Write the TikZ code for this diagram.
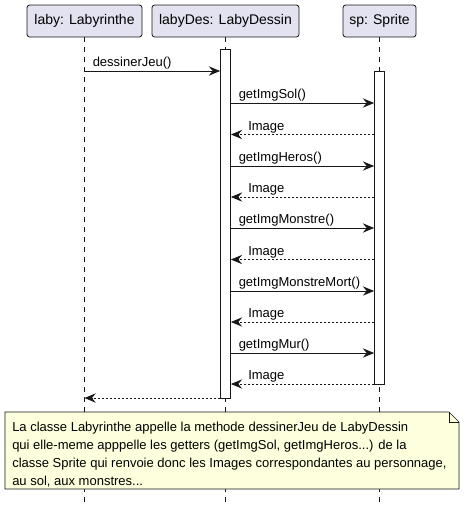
\documentclass[tikz,border=0pt]{standalone}
\usepackage{fontspec}
\setmainfont{Liberation Sans}
\usetikzlibrary{arrows.meta}
\definecolor{partfill}{HTML}{E2E2F0}
\definecolor{linecol}{HTML}{181818}
\definecolor{notefill}{HTML}{FEFFDD}
\tikzset{
  part/.style={draw=linecol, fill=partfill, rounded corners=2pt, line width=0.6pt,
    minimum height=24pt, inner sep=0pt, font=\fontsize{10.5}{12}\selectfont},
  lifeline/.style={draw=linecol, line width=0.5pt, dash pattern=on 3.75pt off 3.75pt},
  actbox/.style={draw=linecol, fill=white, line width=0.6pt, minimum width=7.5pt, inner sep=0pt},
  msg/.style={draw=linecol, line width=0.6pt, -{Stealth[length=8.5pt,width=7pt,inset=3pt]}},
  ret/.style={msg, dash pattern=on 1.5pt off 1.5pt},
  lbl/.style={anchor=base west, inner sep=0pt, font=\fontsize{9.75}{12}\selectfont},
}
\begin{document}
\begin{tikzpicture}[x=0.75pt,y=-0.75pt]
\useasboundingbox (0,0) rectangle (465,511);
% participants
\node[part, minimum width=86.25pt] (pA) at (84.5,21) {laby: Labyrinthe};
\node[part, minimum width=110.25pt] (pB) at (225.5,21) {labyDes: LabyDessin};
\node[part, minimum width=54.75pt] (pC) at (379.5,21) {sp: Sprite};
% lifeline ends
\coordinate (eA) at (84.5,503);
\coordinate (eB) at (225.5,503);
\coordinate (eC) at (379.5,503);
\draw[lifeline] (pA.south) -- (eA);
\draw[lifeline] (pB.south) -- (eB);
\draw[lifeline] (pC.south) -- (eC);
% activations
\node[actbox, minimum height=261.75pt] (actB) at (225.5,223.5) {};
\node[actbox, minimum height=234.75pt] (actC) at (379.5,227.5) {};
% messages
\draw[msg] (pA.south |- 0,71) -- (actB.west |- 0,71);
\node[lbl] (l0) at (92.5,66.5) {dessinerJeu()};
\foreach \y/\t/\n in {103/getImgSol()/1,166/getImgHeros()/2,228/getImgMonstre()/3,291/getImgMonstreMort()/4,353/getImgMur()/5}{
  \draw[msg] (actB.east |- 0,\y) -- (actC.west |- 0,\y);
  \node[lbl] (c\n) at (238.5,\y-4.5) {\t};
}
\foreach \y/\n in {134.5/1,197/2,259.5/3,322/4,384/5}{
  \draw[ret] (actC.west |- 0,\y) -- (actB.east |- 0,\y);
  \node[lbl] (r\n) at (248,\y-4.5) {Image};
}
\draw[ret] (actB.west |- 0,398) -- (pA.south |- 0,398);
% note
\draw[draw=linecol, fill=notefill, line width=0.5pt]
  (5,412) -- (449,412) -- (459,422) -- (459,489) -- (5,489) -- cycle;
\draw[draw=linecol, line width=0.5pt] (449,412) -- (449,422) -- (459,422);
\node[lbl] (n1) at (12,431.5) {La classe Labyrinthe appelle la methode dessinerJeu de LabyDessin};
\node[lbl] (n2) at (12,449.5) {qui elle-meme apppelle les getters (getImgSol, getImgHeros...) de la};
\node[lbl] (n3) at (12,467.5) {classe Sprite qui renvoie donc les Images correspondantes au personnage,};
\node[lbl] (n4) at (12,485) {au sol, aux monstres...};
\end{tikzpicture}
\end{document}
